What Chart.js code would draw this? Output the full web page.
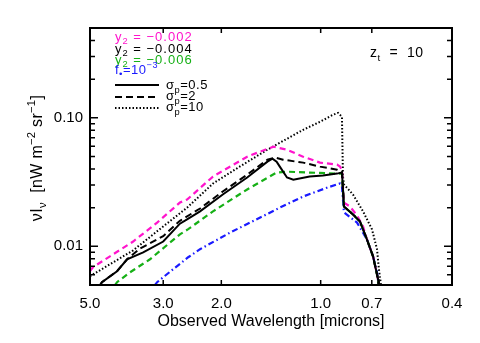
<!DOCTYPE html>
<html><head><meta charset="utf-8">
<script src="https://cdn.jsdelivr.net/npm/chart.js@4.4.1/dist/chart.umd.min.js"></script>
<style>html,body{margin:0;padding:0;background:#fff}#wrap{width:480px;height:343px}</style>
</head><body><div id="wrap"><canvas id="c" width="480" height="343"></canvas></div>
<script>
// ---- axis ticks ----
const xTickValues = [5.0, 3.0, 2.0, 1.0, 0.7, 0.4];
const xTickLabels = ['5.0', '3.0', '2.0', '1.0', '0.7', '0.4'];
const yLabelValues = [0.01, 0.1];
const yLabelTexts = ['0.01', '0.10'];

// ---- curves: observed wavelength (microns) and nu I_nu (nW m^-2 sr^-1) ----
// y2 = -0.002 (magenta dashed)
const wlMagenta  = [5.00, 4.90, 4.35, 3.70, 3.13, 2.67, 2.54, 2.12, 1.67, 1.50, 1.39, 1.265, 1.13, 1.005, 0.892, 0.874, 0.862, 0.850, 0.815, 0.776, 0.744, 0.724, 0.694, 0.670, 0.666];
const valMagenta = [0.0064, 0.00687, 0.00836, 0.0109, 0.0153, 0.0219, 0.0231, 0.0349, 0.0498, 0.0555, 0.0596, 0.0565, 0.0498, 0.0448, 0.0432, 0.0417, 0.0395, 0.0219, 0.0204, 0.0174, 0.0143, 0.0113, 0.00836, 0.00554, 0.00481];
// sigma_p = 0.5, y2 = -0.004 (black solid)
const wlSolid  = [4.66, 4.60, 4.14, 3.86, 3.45, 3.00, 2.67, 2.54, 2.32, 1.98, 1.67, 1.45, 1.40, 1.36, 1.33, 1.265, 1.21, 1.08, 0.984, 0.892, 0.862, 0.850, 0.798, 0.760, 0.724, 0.694, 0.670, 0.666];
const valSolid = [0.00499, 0.00526, 0.0064, 0.00793, 0.00898, 0.0109, 0.0150, 0.0162, 0.0187, 0.0253, 0.0343, 0.0456, 0.0481, 0.0456, 0.0417, 0.0343, 0.0330, 0.0349, 0.0355, 0.0368, 0.0375, 0.0204, 0.0177, 0.0156, 0.0113, 0.00836, 0.00554, 0.00481];
// sigma_p = 2 (black dashed)
const wlDashed  = [4.66, 4.60, 4.14, 3.86, 3.53, 3.00, 2.67, 2.32, 1.98, 1.67, 1.45, 1.37, 1.30, 1.13, 1.005, 0.892, 0.862, 0.850, 0.798, 0.760, 0.724, 0.694, 0.670, 0.666];
const valDashed = [0.00499, 0.00526, 0.0064, 0.00793, 0.0096, 0.0120, 0.0158, 0.0197, 0.0267, 0.0361, 0.0472, 0.0490, 0.0472, 0.0448, 0.0417, 0.0395, 0.0381, 0.0204, 0.0177, 0.0156, 0.0113, 0.00836, 0.00554, 0.00481];
// y2 = -0.006 (green dashed)
const wlGreen  = [4.20, 4.14, 3.78, 3.29, 2.86, 2.67, 2.52, 2.12, 1.67, 1.36, 1.265, 1.08, 0.892, 0.862, 0.850, 0.798, 0.760, 0.724, 0.694, 0.670, 0.666];
const valGreen = [0.00499, 0.00526, 0.00628, 0.00793, 0.0107, 0.0124, 0.0136, 0.0187, 0.0277, 0.0375, 0.0381, 0.0375, 0.0368, 0.0368, 0.0204, 0.0177, 0.0156, 0.0113, 0.00836, 0.00554, 0.00481];
// f* = 1e-3 (blue dash-dot)
const wlBlue  = [3.18, 3.13, 2.80, 2.52, 2.32, 1.88, 1.50, 1.33, 1.13, 0.957, 0.874, 0.862, 0.850, 0.776, 0.724, 0.694, 0.675, 0.666];
const valBlue = [0.00499, 0.00526, 0.00663, 0.00822, 0.0095, 0.0128, 0.0171, 0.0200, 0.0244, 0.0286, 0.0308, 0.0292, 0.0184, 0.0153, 0.0113, 0.00836, 0.00628, 0.00481];
// sigma_p = 10 (black dotted)
const wlDotted  = [5.00, 4.35, 3.70, 3.13, 2.54, 2.12, 1.76, 1.45, 1.13, 1.005, 0.918, 0.886, 0.862, 0.856, 0.850, 0.833, 0.798, 0.744, 0.699, 0.675, 0.666, 0.657, 0.652];
const valDotted = [0.00585, 0.00725, 0.0093, 0.0131, 0.0200, 0.0308, 0.0417, 0.0565, 0.0807, 0.0931, 0.1055, 0.1093, 0.1018, 0.0349, 0.0303, 0.0286, 0.0253, 0.0187, 0.01355, 0.0095, 0.00663, 0.00507, 0.0045];

const FONT = '"Liberation Sans", Arial, Helvetica, sans-serif';
const MAGENTA = '#ff14cc', GREEN = '#16b016', BLUE = '#1a1aff';

function ser(wl, v) { return wl.map((w, i) => ({x: w, y: v[i]})); }

// minor+major tick values for the log y axis
const yTickValues = [];
for (let e = -3; e <= -1; e++) for (let m = 1; m <= 9; m++) {
  const v = parseFloat((m * Math.pow(10, e)).toPrecision(6));
  if (v >= 0.005 - 1e-12 && v <= 0.5 + 1e-12) yTickValues.push(v);
}

function drawRich(ctx, x, y, segs, o) {
  ctx.save();
  ctx.fillStyle = o.color; ctx.textBaseline = 'alphabetic'; ctx.textAlign = 'left';
  if ('letterSpacing' in ctx) ctx.letterSpacing = (o.spacing || 0) + 'px';
  let w = 0;
  const parts = segs.map(sg => {
    const fs = o.size * (sg.s || 1);
    ctx.font = fs + 'px ' + FONT;
    const m = ctx.measureText(sg.t).width; w += m;
    return {sg, fs, m};
  });
  let cx = o.align === 'center' ? x - w / 2 : x;
  parts.forEach(p => {
    ctx.font = p.fs + 'px ' + FONT;
    ctx.fillText(p.sg.t, cx, y + (p.sg.dy || 0) * o.size);
    cx += p.m;
  });
  ctx.restore();
}

const overlay = {
  id: 'overlay',
  afterDraw(chart) {
    const {ctx, chartArea: a, scales: {x, y}} = chart;
    ctx.save();
    // frame
    ctx.strokeStyle = '#000'; ctx.lineWidth = 2;
    ctx.strokeRect(a.left, a.top, a.right - a.left, a.bottom - a.top);
    // inner y ticks (left & right)
    ctx.lineWidth = 1.5;
    y.ticks.forEach(t => {
      const py = y.getPixelForValue(t.value);
      if (py < a.top + 2 || py > a.bottom - 2) return;
      const lg = Math.log10(t.value);
      const major = Math.abs(lg - Math.round(lg)) < 1e-6;
      const len = major ? 8 : 5;
      ctx.beginPath();
      ctx.moveTo(a.left, py); ctx.lineTo(a.left + len, py);
      ctx.moveTo(a.right, py); ctx.lineTo(a.right - len, py);
      ctx.stroke();
    });
    // inner x ticks (bottom & top)
    x.ticks.forEach(t => {
      const px = x.getPixelForValue(t.value);
      if (px < a.left + 2 || px > a.right - 2) return;
      ctx.beginPath();
      ctx.moveTo(px, a.bottom); ctx.lineTo(px, a.bottom - 5);
      ctx.moveTo(px, a.top); ctx.lineTo(px, a.top + 5);
      ctx.stroke();
    });
    ctx.restore();

    // y axis title (rotated)
    ctx.save();
    ctx.translate(42, 158);
    ctx.rotate(-Math.PI / 2);
    drawRich(ctx, 0, 0, [
      {t: 'ν'}, {t: 'I'}, {t: 'ν', s: 0.7, dy: 0.25}, {t: '  [nW m'},
      {t: '−2', s: 0.7, dy: -0.45}, {t: ' sr'}, {t: '−1', s: 0.7, dy: -0.45}, {t: ']'}
    ], {size: 16, color: '#000', align: 'center', spacing: 0.3});
    ctx.restore();

    // legend: colour labels
    const lx = 115;
    const y2 = (val) => [{t: 'y'}, {t: '2', s: 0.72, dy: 0.25}, {t: ' = −' + val}];
    drawRich(ctx, lx, 41, y2('0.002'), {size: 13, color: MAGENTA, spacing: 1});
    drawRich(ctx, lx, 53, y2('0.004'), {size: 13, color: '#000', spacing: 1});
    drawRich(ctx, lx, 64, y2('0.006'), {size: 13, color: GREEN, spacing: 1});
    drawRich(ctx, lx, 74, [{t: 'f'}, {t: '•', s: 0.75, dy: 0.2}, {t: '=10'}, {t: '−3', s: 0.7, dy: -0.45}], {size: 13, color: BLUE, spacing: 0.5});

    // legend: line styles
    const rows = [{yy: 85, dash: [], lw: 2, txt: '=0.5', tb: 89},
                  {yy: 97, dash: [7, 4], lw: 2, txt: '=2', tb: 100},
                  {yy: 108, dash: [1.5, 2], lw: 2, txt: '=10', tb: 111}];
    rows.forEach(r => {
      ctx.save();
      ctx.strokeStyle = '#000'; ctx.lineWidth = r.lw; ctx.setLineDash(r.dash);
      ctx.beginPath(); ctx.moveTo(lx, r.yy); ctx.lineTo(159, r.yy); ctx.stroke();
      ctx.restore();
      drawRich(ctx, 166, r.tb, [{t: 'σ'}, {t: 'p', s: 0.72, dy: 0.3}, {t: r.txt}], {size: 13, color: '#000', spacing: 0.5});
    });

    // z_t label
    drawRich(ctx, 370, 57, [{t: 'z'}, {t: 't', s: 0.7, dy: 0.3}, {t: '  =  10'}], {size: 14, color: '#000', spacing: 0.5});
  }
};

new Chart(document.getElementById('c'), {
  type: 'scatter',
  data: {
    datasets: [
      {label: 'sigma_p=0.5', data: ser(wlSolid, valSolid), borderColor: '#000', borderWidth: 2, borderDash: []},
      {label: 'sigma_p=2', data: ser(wlDashed, valDashed), borderColor: '#000', borderWidth: 2, borderDash: [7, 4]},
      {label: 'y2=-0.006', data: ser(wlGreen, valGreen), borderColor: GREEN, borderWidth: 2.2, borderDash: [6, 4]},
      {label: 'y2=-0.002', data: ser(wlMagenta, valMagenta), borderColor: MAGENTA, borderWidth: 2.2, borderDash: [6, 4]},
      {label: 'f*=1e-3', data: ser(wlBlue, valBlue), borderColor: BLUE, borderWidth: 2.2, borderDash: [6, 3, 1.5, 3]},
      {label: 'sigma_p=10', data: ser(wlDotted, valDotted), borderColor: '#000', borderWidth: 2, borderDash: [1.5, 2]}
    ].map(d => Object.assign(d, {showLine: true, pointRadius: 0, fill: false, tension: 0}))
  },
  options: {
    responsive: false, animation: false, devicePixelRatio: 1,
    layout: {padding: {left: 0, right: 28, top: 28, bottom: 0}},
    plugins: {legend: {display: false}, tooltip: {enabled: false}},
    scales: {
      x: {
        type: 'logarithmic', reverse: true, min: 0.4, max: 5.0, position: 'bottom',
        afterBuildTicks: s => { s.ticks = xTickValues.map(v => ({value: v})); },
        afterFit: s => { s.height = 58; },
        grid: {display: false, drawTicks: false}, border: {display: false},
        ticks: {autoSkip: false, maxRotation: 0, padding: 10, color: '#000',
                font: {family: FONT, size: 15}, callback: (v, i) => xTickLabels[i]},
        title: {display: true, text: 'Observed Wavelength [microns]', color: '#000',
                font: {family: FONT, size: 16}, padding: {top: 0, bottom: 12}}
      },
      y: {
        type: 'logarithmic', min: 0.005, max: 0.5, position: 'left',
        afterBuildTicks: s => { s.ticks = yTickValues.map(v => ({value: v})); },
        afterFit: s => { s.width = 90; },
        grid: {display: false, drawTicks: false}, border: {display: false},
        ticks: {autoSkip: false, padding: 7, color: '#000', font: {family: FONT, size: 15},
                callback: v => { const k = yLabelValues.findIndex(u => Math.abs(u - v) < 1e-9); return k >= 0 ? yLabelTexts[k] : ''; }},
        title: {display: false}
      }
    }
  },
  plugins: [overlay]
});
</script></body></html>
